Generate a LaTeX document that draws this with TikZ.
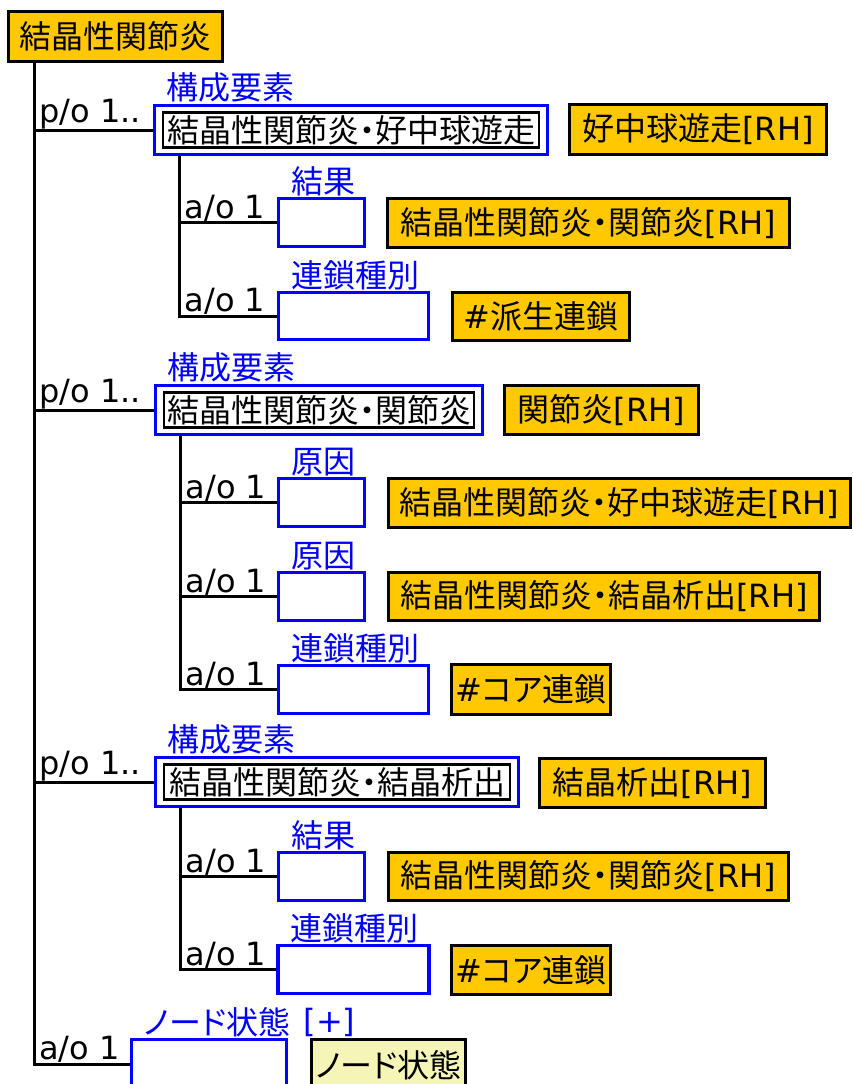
\documentclass[tikz,border=0pt]{standalone}
\usepackage{fontspec}
\setmainfont{DejaVu Sans}
\newfontfamily\jp{Noto Sans CJK JP}[RawFeature=+palt]
\usetikzlibrary{positioning, fit, calc}
\definecolor{clsorange}{RGB}{255,200,0}
\definecolor{linkblue}{RGB}{0,0,255}
\definecolor{noteyellow}{RGB}{245,245,184}

\begin{document}
\begin{tikzpicture}[x=1pt, y=-1pt,
    font=\fontsize{32}{38}\selectfont,
    tree/.style={line width=3pt},
    typebox/.style={draw, line width=3pt, fill=clsorange, inner sep=0pt},
    notebox/.style={draw, line width=3pt, fill=noteyellow, inner sep=0pt},
    attrbox/.style={draw=linkblue, line width=3.2pt, fill=white, inner sep=0pt},
    namebox/.style={draw, line width=2.6pt, fill=white, minimum height=35pt, inner sep=0pt},
    compbox/.style={draw=linkblue, line width=3.2pt, inner xsep=7.5pt, inner ysep=6pt},
    link/.style={text=linkblue, inner sep=0pt, anchor=south west},
    card/.style={inner sep=0pt, anchor=south west}
]
\useasboundingbox (0,0) rectangle (853,1084);

% root class
\node[typebox, minimum width=214, minimum height=50] (root) at (115.5,36) {\jp 結晶性関節炎};
\coordinate (t0) at ($(root.south west)+(27,0)$);

% --- component 1
\node[namebox, minimum width=376] (n1) at (351,130) {\jp 結晶性関節炎・好中球遊走};
\node[compbox, fit=(n1)] (comp1) {};
\node[link] (l1) at ($(comp1.north west)+(14,-1)$) {\jp 構成要素};
\node[typebox, minimum width=257, minimum height=50] (ty1) at (698,129.5) {{\jp 好中球遊走}[RH]};
\coordinate (s1) at ($(comp1.south west)+(27,0)$);

\node[attrbox, minimum width=86, minimum height=48] (a1) at (321.5,222.5) {};
\node[link] (la1) at ($(a1.north west)+(14,-1)$) {\jp 結果};
\node[typebox, minimum width=402, minimum height=49] (ta1) at (588.5,223) {{\jp 結晶性関節炎・関節炎}[RH]};

\node[attrbox, minimum width=150, minimum height=47] (a2) at (353.5,316) {};
\node[link] (la2) at ($(a2.north west)+(14,-1)$) {\jp 連鎖種別};
\node[typebox, minimum width=177, minimum height=48] (ta2) at (541,316.5) {\#{\jp 派生連鎖}};

% --- component 2
\node[namebox, minimum width=310] (n2) at (319,410) {\jp 結晶性関節炎・関節炎};
\node[compbox, fit=(n2)] (comp2) {};
\node[link] (l2) at ($(comp2.north west)+(14,-1)$) {\jp 構成要素};
\node[typebox, minimum width=194, minimum height=49] (ty2) at (601.5,410) {{\jp 関節炎}[RH]};
\coordinate (s2) at ($(comp2.south west)+(27,0)$);

\node[attrbox, minimum width=86, minimum height=48] (b1) at (321.5,502.5) {};
\node[link] (lb1) at ($(b1.north west)+(14,-1)$) {\jp 原因};
\node[typebox, minimum width=462, minimum height=49] (tb1) at (619.5,503) {{\jp 結晶性関節炎・好中球遊走}[RH]};

\node[attrbox, minimum width=86, minimum height=48] (b2) at (321.5,596.5) {};
\node[link] (lb2) at ($(b2.north west)+(14,-1)$) {\jp 原因};
\node[typebox, minimum width=431, minimum height=48] (tb2) at (604,596.5) {{\jp 結晶性関節炎・結晶析出}[RH]};

\node[attrbox, minimum width=150, minimum height=48] (b3) at (353.5,689.5) {};
\node[link] (lb3) at ($(b3.north west)+(14,-1)$) {\jp 連鎖種別};
\node[typebox, minimum width=159, minimum height=50] (tb3) at (531,689.5) {\#{\jp コア連鎖}};

% --- component 3
\node[namebox, minimum width=346] (n3) at (337,782) {\jp 結晶性関節炎・結晶析出};
\node[compbox, fit=(n3)] (comp3) {};
\node[link] (l3) at ($(comp3.north west)+(14,-1)$) {\jp 構成要素};
\node[typebox, minimum width=226, minimum height=49] (ty3) at (652.5,783) {{\jp 結晶析出}[RH]};
\coordinate (s3) at ($(comp3.south west)+(27,0)$);

\node[attrbox, minimum width=86, minimum height=48] (c1) at (321.5,876.5) {};
\node[link] (lc1) at ($(c1.north west)+(14,-1)$) {\jp 結果};
\node[typebox, minimum width=400, minimum height=48] (tc1) at (588.5,876.5) {{\jp 結晶性関節炎・関節炎}[RH]};

\node[attrbox, minimum width=151, minimum height=48] (c2) at (353.5,969.5) {};
\node[link] (lc2) at ($(c2.north west)+(14,-1)$) {\jp 連鎖種別};
\node[typebox, minimum width=159, minimum height=49] (tc2) at (531,970) {\#{\jp コア連鎖}};

% --- node state
\node[attrbox, minimum width=155, minimum height=49] (nstate) at (209,1064) {};
\node[link] (lns) at ($(nstate.north west)+(14,-1)$) {\jp ノード状態};
\node[link] (plus) at ($(lns.south east)+(13,0)$) {[+]};
\node[notebox, minimum width=154, minimum height=51] (note) at (388.5,1065) {\jp ノード状態};

% tree lines
\draw[tree] (t0) |- (comp1.west);
\draw[tree] (t0) |- (comp2.west);
\draw[tree] (t0) |- (comp3.west);
\draw[tree] (t0) |- (nstate.west);
\draw[tree] (s1) |- (a1.west);
\draw[tree] (s1) |- (a2.west);
\draw[tree] (s2) |- (b1.west);
\draw[tree] (s2) |- (b2.west);
\draw[tree] (s2) |- (b3.west);
\draw[tree] (s3) |- (c1.west);
\draw[tree] (s3) |- (c2.west);

% cardinalities
\foreach \n/\c in {comp1/{p/o 1..}, comp2/{p/o 1..}, comp3/{p/o 1..}, nstate/{a/o 1}}
    \node[card] at ($(t0 |- \n.west)+(5,-1)$) {\c};
\node[card] at ($(s1 |- a1.west)+(5,-1)$) {a/o 1};
\node[card] at ($(s1 |- a2.west)+(5,-1)$) {a/o 1};
\node[card] at ($(s2 |- b1.west)+(5,-1)$) {a/o 1};
\node[card] at ($(s2 |- b2.west)+(5,-1)$) {a/o 1};
\node[card] at ($(s2 |- b3.west)+(5,-1)$) {a/o 1};
\node[card] at ($(s3 |- c1.west)+(5,-1)$) {a/o 1};
\node[card] at ($(s3 |- c2.west)+(5,-1)$) {a/o 1};
\end{tikzpicture}
\end{document}
